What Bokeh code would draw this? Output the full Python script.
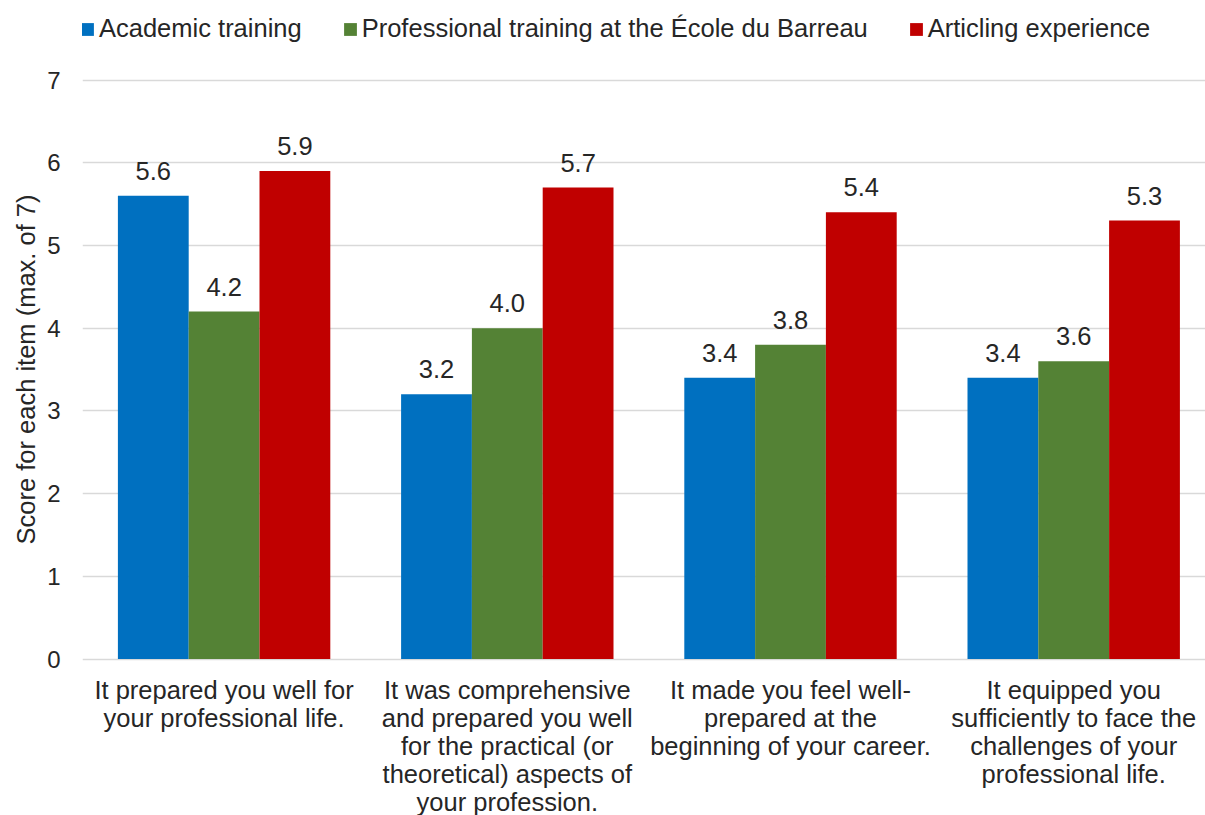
import numpy as np
from bokeh.plotting import figure
from bokeh.models import (ColumnDataSource, Range1d, FixedTicker, Legend, LegendItem, Title)
from bokeh.core.properties import value
from bokeh.embed import file_html
from bokeh.resources import INLINE

# ---- data ----
categories = [
    "It prepared you well for\nyour professional life.",
    "It was comprehensive\nand prepared you well\nfor the practical (or\ntheoretical) aspects of\nyour profession.",
    "It made you feel well-\nprepared at the\nbeginning of your career.",
    "It equipped you\nsufficiently to face the\nchallenges of your\nprofessional life.",
]
series_names = ["Academic training",
                "Professional training at the École du Barreau",
                "Articling experience"]
academic = [5.6, 3.2, 3.4, 3.4]
professional = [4.2, 4.0, 3.8, 3.6]
articling = [5.9, 5.7, 5.4, 5.3]
colors = ["#0070C0", "#548235", "#C00000"]
y_ticks = [0, 1, 2, 3, 4, 5, 6, 7]
y_max = 7

FONT = "Liberation Sans"
TXT = "#262626"

W, H = 1205, 815
frame_left = 82
y0_px, y7_px = 658.5, 79.5          # screen rows of 0 and 7
unit = (y0_px - y7_px) / y_max
cat_px = 283.2
x_end = (W - frame_left) / cat_px
y_start = -(H - y0_px) / unit
y_end = y_max + y7_px / unit

p = figure(width=W, height=H, output_backend="svg", toolbar_location=None,
           x_range=Range1d(0, x_end), y_range=Range1d(y_start, y_end),
           min_border_left=frame_left, min_border_right=0,
           min_border_top=0, min_border_bottom=0)
p.outline_line_color = None
p.background_fill_color = "white"
p.border_fill_color = "white"

# grid
p.xgrid.grid_line_color = None
p.ygrid.grid_line_color = "#D9D9D9"
p.ygrid.grid_line_width = 1.3
p.yaxis.ticker = FixedTicker(ticks=y_ticks)
p.ygrid.ticker = FixedTicker(ticks=y_ticks)

# y axis
p.yaxis.axis_line_color = None
p.yaxis.major_tick_line_color = None
p.yaxis.minor_tick_line_color = None
p.yaxis.major_label_text_font = FONT
p.yaxis.major_label_text_font_size = "24px"
p.yaxis.major_label_text_color = TXT
p.yaxis.major_label_standoff = 16
p.xaxis.visible = False

# y axis title (centred on the 0..7 span)
ylab = "Score for each item (max. of 7)"
p.add_layout(Title(text=ylab, align="left", offset=(H - (y0_px + y7_px) / 2) - 175,
                   text_font=FONT, text_font_size="25.5px", text_font_style="normal",
                   text_color=TXT, standoff=10), "left")

idx = np.arange(len(categories)) + 0.5
offsets = [-0.25, 0.0, 0.25]
series = [academic, professional, articling]

renderers = []
for name, vals, off, col in zip(series_names, series, offsets, colors):
    src = ColumnDataSource(dict(x=idx + off, top=vals,
                                lbl=[f"{v:.1f}" for v in vals]))
    r = p.vbar(x="x", top="top", width=0.25, bottom=0, source=src,
               fill_color=col, line_color=None)
    renderers.append(r)
    p.text(x="x", y="top", text="lbl", source=src, text_align="center",
           text_baseline="alphabetic", y_offset=-25,
           text_font=value(FONT), text_font_size="25.5px", text_color=TXT)

# category labels below the zero line
csrc = ColumnDataSource(dict(x=idx, y=[0] * len(categories), t=categories))
p.text(x="x", y="y", text="t", source=csrc, y_offset=17,
       text_align="center", text_baseline="top",
       text_font=value(FONT), text_font_size="25.5px",
       text_color=TXT, text_line_height=1.0)

legend = Legend(items=[LegendItem(label=n, renderers=[r]) for n, r in zip(series_names, renderers)],
                orientation="horizontal", location=(-3, H - 43),
                glyph_width=16, glyph_height=16, label_standoff=4, spacing=40,
                label_height=29, padding=0, margin=0, border_line_color=None,
                background_fill_alpha=0,
                label_text_font=FONT, label_text_font_size="25.5px",
                label_text_color=TXT)
p.add_layout(legend, "center")

open("out.html", "w").write(file_html(p, INLINE))
